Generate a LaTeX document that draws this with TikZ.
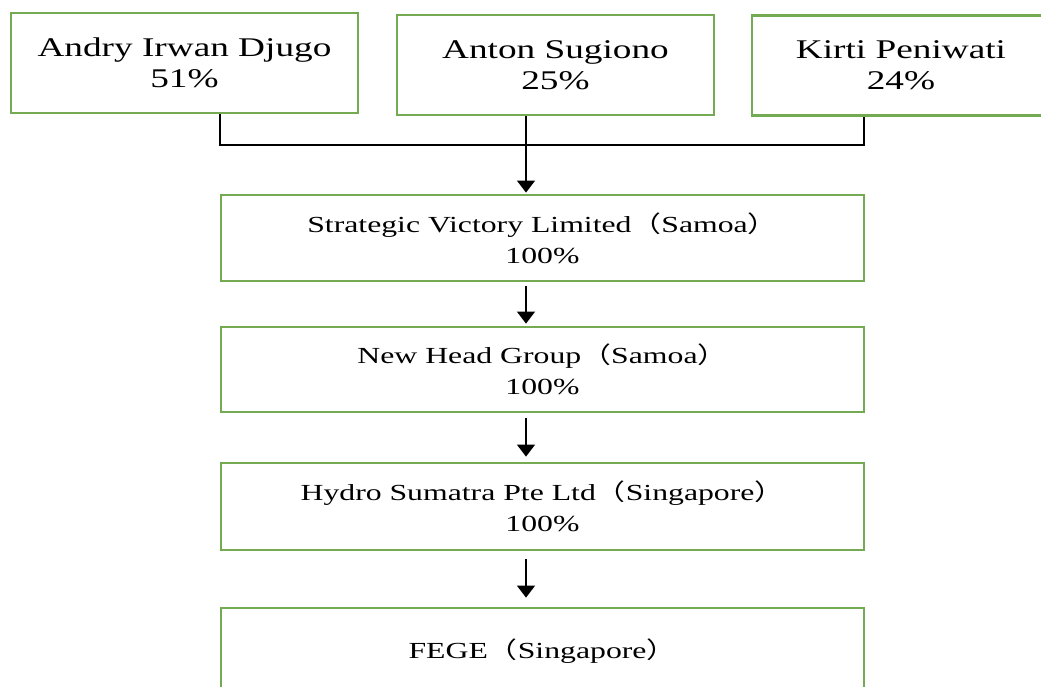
\documentclass[tikz,border=0pt]{standalone}
\usepackage{fontspec}
\setmainfont{Liberation Serif}[FakeStretch=1.38]
\newfontfamily\cjk{Noto Sans CJK SC}[FakeStretch=1.3]
\usetikzlibrary{arrows.meta}
\definecolor{boxgreen}{RGB}{116,170,82}
\newcommand\lpr{{\cjk （}}
\newcommand\rpr{{\cjk ）}}
\begin{document}
\begin{tikzpicture}[x=1pt,y=-1pt,
 box/.style={draw=boxgreen,line width=2.8pt,inner sep=0pt,align=center},
 topbox/.style={box,font=\fontsize{27}{31}\selectfont,minimum height=100pt},
 midbox/.style={box,font=\fontsize{23}{31}\selectfont,minimum width=643pt},
 conn/.style={line width=1.4pt,black},
 arr/.style={conn,-{Triangle[width=18pt,length=12pt]}}]
\useasboundingbox (0,0) rectangle (1041,687);
% top owners
\node[topbox,minimum width=347pt] (a1) at (184.5,63) {Andry Irwan Djugo\\51\%};
\node[topbox,minimum width=317pt] (a2) at (555.5,65) {Anton Sugiono\\25\%};
\node[topbox,minimum width=298pt] (a3) at (901,65.5) {Kirti Peniwati\\24\%};
% chain
\node[midbox,minimum height=86pt] (b1) at (542.5,238) {Strategic Victory Limited\lpr Samoa\rpr\\100\%};
\node[midbox,minimum height=85pt] (b2) at (542.5,369.5) {New Head Group\lpr Samoa\rpr\\100\%};
\node[midbox,minimum height=87pt] (b3) at (542.5,506.5) {Hydro Sumatra Pte Ltd\lpr Singapore\rpr\\100\%};
\node[midbox,minimum height=86pt] (b4) at (542.5,651) {FEGE\lpr Singapore\rpr};
% connectors
\coordinate (j1) at (220,145);
\coordinate (j3) at (864,145);
\coordinate (sp) at (526,0);
\draw[conn] (a1.south -| j1) -- (j1) -- (j3) -- (a3.south -| j3);
\draw[arr,shorten >=1pt] (a2.south -| sp) -- (b1.north -| sp);
\draw[arr,shorten <=4pt,shorten >=2pt] (b1.south -| sp) -- (b2.north -| sp);
\draw[arr,shorten <=5pt,shorten >=5pt] (b2.south -| sp) -- (b3.north -| sp);
\draw[arr,shorten <=8pt,shorten >=9pt] (b3.south -| sp) -- (b4.north -| sp);
\end{tikzpicture}
\end{document}
